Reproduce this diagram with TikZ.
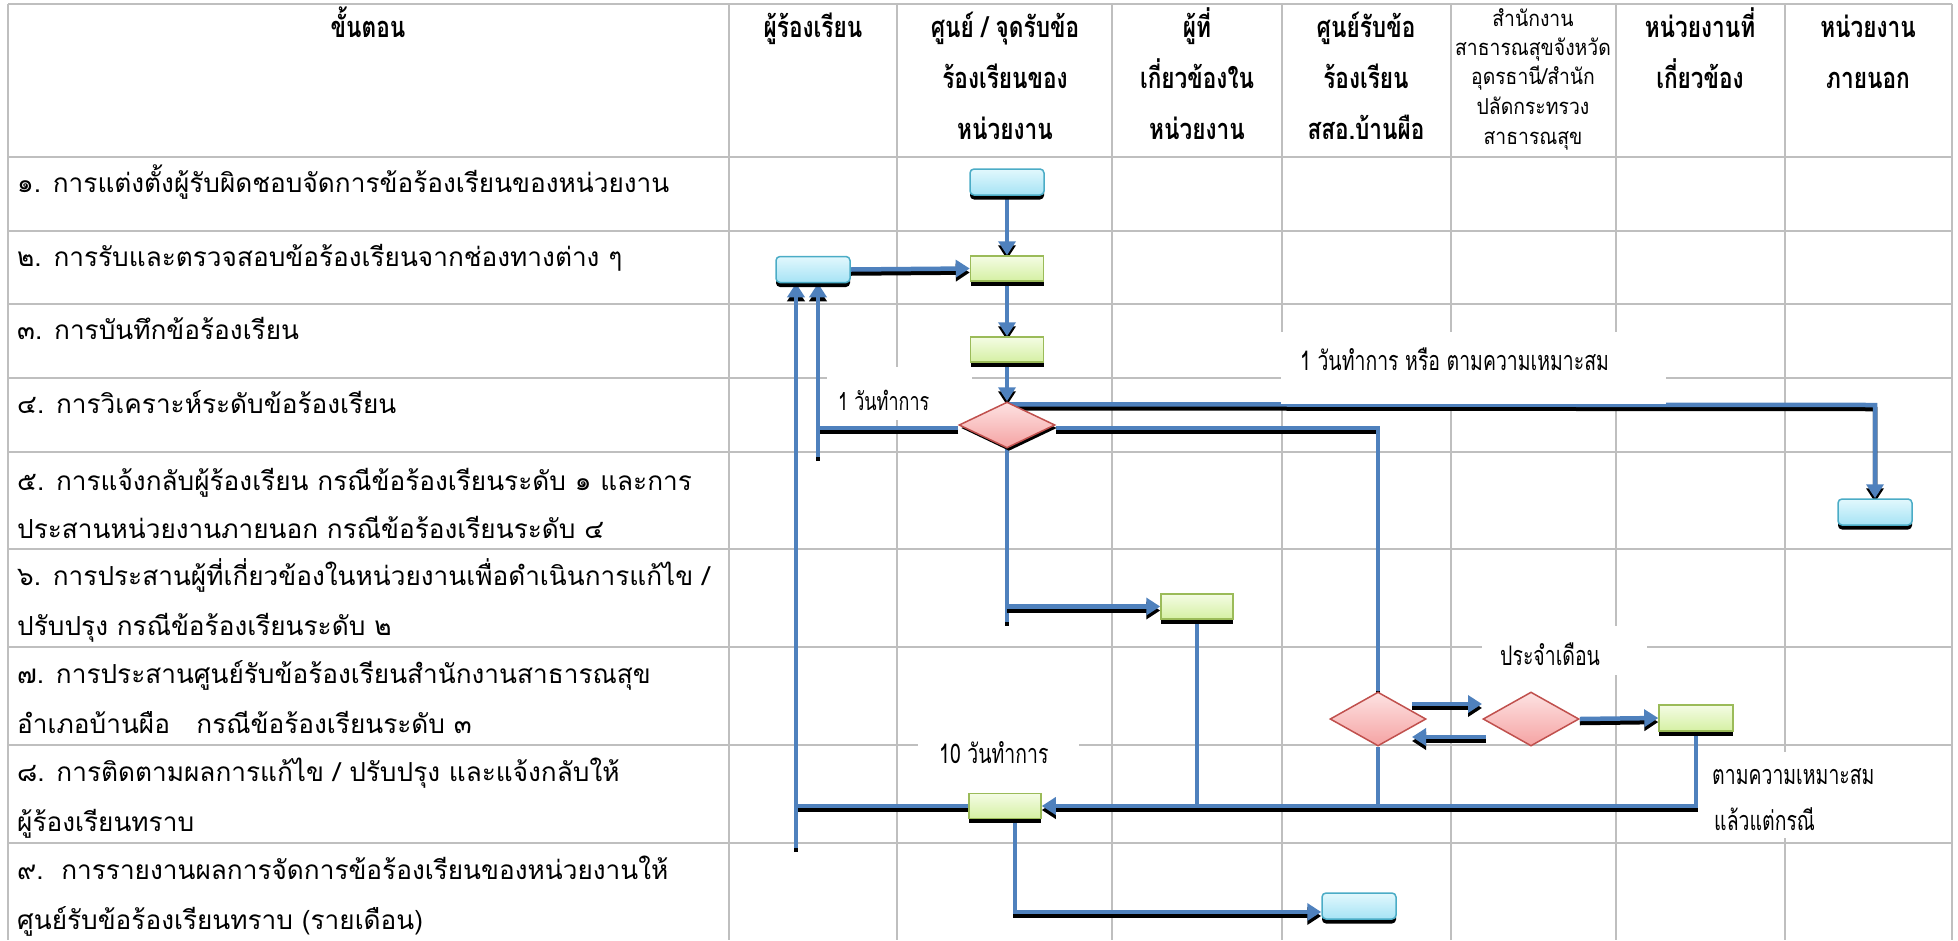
\documentclass[tikz,border=0pt]{standalone}
\usepackage{fontspec}
\setmainfont[Script=Thai]{Loma}
\newfontfamily\thcond[Script=Thai,FakeStretch=0.78]{Loma}
\newfontfamily\thlab[Script=Thai,FakeStretch=0.72]{Loma}
\newfontfamily\thsm[Script=Thai,FakeStretch=0.88]{Loma}
\usetikzlibrary{arrows.meta,shapes.geometric,shadows}
\definecolor{gridgray}{HTML}{BFBFBF}
\definecolor{flowblue}{HTML}{4F81BD}
\definecolor{aquaedge}{HTML}{4BACC6}
\definecolor{aquatop}{HTML}{E2F8FD}
\definecolor{aquabot}{HTML}{A6E3F5}
\definecolor{greenedge}{HTML}{9BBB59}
\definecolor{greentop}{HTML}{F4FCE4}
\definecolor{greenbot}{HTML}{D5F0A3}
\definecolor{rededge}{HTML}{C0504D}
\definecolor{redtop}{HTML}{FDE2E2}
\definecolor{redbot}{HTML}{F5A3A3}
\pgfdeclarelayer{gridlayer}
\pgfdeclarelayer{connlayer}
\pgfdeclarelayer{lablayer}
\pgfsetlayers{gridlayer,connlayer,lablayer,main}
\newcommand\flowpath[2][]{\draw[flowsh,#1] #2; \draw[flow,#1] #2;}
\begin{document}
\begin{tikzpicture}[x=1pt,y=-1pt,
  gridline/.style={draw=gridgray,line width=2pt},
  flow/.style={draw=flowblue,line width=4.5pt},
  flowsh/.style={draw=black,line width=4.5pt,transform canvas={yshift=-4pt}},
  tip/.style={-{Triangle[length=14pt,width=17pt]}},
  bluebox/.style={rectangle,rounded corners=4pt,draw=aquaedge,line width=1.5pt,
    top color=aquatop,bottom color=aquabot,minimum width=74pt,minimum height=26pt,
    inner sep=0pt,general shadow={fill=black,shadow yshift=-4.5pt}},
  greenbox/.style={rectangle,draw=greenedge,line width=1.5pt,
    top color=greentop,bottom color=greenbot,minimum width=73pt,minimum height=25pt,
    inner sep=0pt,general shadow={fill=black,shadow yshift=-4.5pt}},
  decision/.style={diamond,draw=rededge,line width=1.5pt,top color=redtop,bottom color=redbot,
    minimum width=96pt,minimum height=54pt,inner sep=0pt},
  ltext/.style={anchor=base west,inner sep=0pt,font=\fontsize{26.2}{30}\selectfont},
  htext/.style={anchor=base,inner sep=0pt,font=\thcond\bfseries\fontsize{29}{34}\selectfont},
  hsmall/.style={anchor=base,inner sep=0pt,font=\thsm\fontsize{22}{26}\selectfont},
  labtext/.style={anchor=base west,inner sep=0pt,font=\thlab\fontsize{27}{30}\selectfont}
]
\useasboundingbox (0,0) rectangle (1958,940);
% ---------- grid ----------
\begin{pgfonlayer}{gridlayer}
\foreach \yy in {4,157,231,304,378,452,549,647,745,843}
  \draw[gridline] (8,\yy) -- (1952,\yy);
\foreach \xx in {8,729,897,1112,1282,1451,1616,1785,1952}
  \draw[gridline] (\xx,4) -- (\xx,940);
\end{pgfonlayer}
% ---------- header ----------
\node[htext] (h1) at (368,37) {ขั้นตอน};
\node[htext] (h2) at (813,37) {ผู้ร้องเรียน};
\node[htext] (h3a) at (1005,37) {ศูนย์ / จุดรับข้อ};
\node[htext] (h3b) at (1005,88) {ร้องเรียนของ};
\node[htext] (h3c) at (1005,139) {หน่วยงาน};
\node[htext] (h4a) at (1197,37) {ผู้ที่};
\node[htext] (h4b) at (1197,88) {เกี่ยวข้องใน};
\node[htext] (h4c) at (1197,139) {หน่วยงาน};
\node[htext] (h5a) at (1366,37) {ศูนย์รับข้อ};
\node[htext] (h5b) at (1366,88) {ร้องเรียน};
\node[htext] (h5c) at (1366,139) {สสอ.บ้านผือ};
\node[hsmall] (h6a) at (1533,26) {สำนักงาน};
\node[hsmall] (h6b) at (1533,55) {สาธารณสุขจังหวัด};
\node[hsmall] (h6c) at (1533,84) {อุดรธานี/สำนัก};
\node[hsmall] (h6d) at (1533,114) {ปลัดกระทรวง};
\node[hsmall] (h6e) at (1533,144) {สาธารณสุข};
\node[htext] (h7a) at (1700,37) {หน่วยงานที่};
\node[htext] (h7b) at (1700,88) {เกี่ยวข้อง};
\node[htext] (h8a) at (1868,37) {หน่วยงาน};
\node[htext] (h8b) at (1868,88) {ภายนอก};
% ---------- step texts ----------
\node[ltext] (t1) at (17,192) {๑. การแต่งตั้งผู้รับผิดชอบจัดการข้อร้องเรียนของหน่วยงาน};
\node[ltext] (t2) at (17,266) {๒. การรับและตรวจสอบข้อร้องเรียนจากช่องทางต่าง ๆ};
\node[ltext] (t3) at (17,339) {๓. การบันทึกข้อร้องเรียน};
\node[ltext] (t4) at (17,413) {๔. การวิเคราะห์ระดับข้อร้องเรียน};
\node[ltext] (t5a) at (17,490) {๕. การแจ้งกลับผู้ร้องเรียน กรณีข้อร้องเรียนระดับ ๑ และการ};
\node[ltext] (t5b) at (17,538) {ประสานหน่วยงานภายนอก กรณีข้อร้องเรียนระดับ ๔};
\node[ltext] (t6a) at (17,585) {๖. การประสานผู้ที่เกี่ยวข้องในหน่วยงานเพื่อดำเนินการแก้ไข /};
\node[ltext] (t6b) at (17,635) {ปรับปรุง กรณีข้อร้องเรียนระดับ ๒};
\node[ltext] (t7a) at (17,683) {๗. การประสานศูนย์รับข้อร้องเรียนสำนักงานสาธารณสุข};
\node[ltext] (t7b) at (17,733) {อำเภอบ้านผือ\ \ \ กรณีข้อร้องเรียนระดับ ๓};
\node[ltext] (t8a) at (17,781) {๘. การติดตามผลการแก้ไข / ปรับปรุง และแจ้งกลับให้};
\node[ltext] (t8b) at (17,831) {ผู้ร้องเรียนทราบ};
\node[ltext] (t9a) at (17,879) {๙.\ \ การรายงานผลการจัดการข้อร้องเรียนของหน่วยงานให้};
\node[ltext] (t9b) at (17,929) {ศูนย์รับข้อร้องเรียนทราบ (รายเดือน)};
% ---------- flow nodes ----------
\node[bluebox] (B1) at (1007,182) {};
\node[greenbox] (G2) at (1007,268.5) {};
\node[greenbox] (G3) at (1007,349.5) {};
\node[bluebox] (B2) at (813,269.5) {};
\node[decision,minimum height=46pt,general shadow={fill=black,shadow xshift=2pt,shadow yshift=-3pt}] (D4) at (1007,425) {};
\node[bluebox] (B5) at (1875,512) {};
\node[greenbox,minimum width=72pt] (G6) at (1197,606.5) {};
\node[decision] (D7) at (1378,719) {};
\node[decision] (D7b) at (1531,719) {};
\node[greenbox,minimum width=74pt,minimum height=26pt] (G7) at (1696,718) {};
\node[greenbox,minimum width=72pt] (G8) at (1005,806) {};
\node[bluebox] (B9) at (1359,906) {};
% ---------- labels ----------
\begin{pgfonlayer}{lablayer}
\fill[white] (827,367) rectangle (972,420);
\fill[white] (1281,332) rectangle (1666,404);
\fill[white] (1482,626) rectangle (1647,675);
\fill[white] (918,738) rectangle (1079,790);
\fill[white] (1700,752) rectangle (1895,838);
\end{pgfonlayer}
\node[labtext,font=\thlab\fontsize{25}{28}\selectfont] (L1) at (838,410) {1 วันทำการ};
\node[labtext] (L2) at (1300,370) {1 วันทำการ หรือ ตามความเหมาะสม};
\node[labtext] (L3) at (1500,665) {ประจำเดือน};
\node[labtext] (L4) at (939,763) {10 วันทำการ};
\node[labtext] (L5) at (1712,784) {ตามความเหมาะสม};
\node[labtext] (L6) at (1714,830) {แล้วแต่กรณี};
% ---------- connectors ----------
\coordinate (k1) at (1875,405);
\coordinate (k2) at (1378,428);
\coordinate (k3) at (818,428);
\coordinate (k4) at (818,457);
\coordinate (k5) at (1007,622);
\coordinate (r8) at (0,806);
\coordinate (k6) at (796,848);
\coordinate (k7) at (1015,912);
\coordinate (m1) at (1412,704);
\coordinate (m2) at (1482,704);
\coordinate (m3) at (1486,737);
\coordinate (m4) at (1412,737);
\begin{pgfonlayer}{connlayer}
\flowpath[tip]{(B1.south) -- (G2.north)}
\flowpath[tip]{(B2.east) -- (G2.west)}
\flowpath[tip]{(G2.south) -- (G3.north)}
\flowpath[tip]{(G3.south) -- (D4.north)}
\flowpath[tip]{(D4.north) ++(0,3) -- (k1) -- (B5.north)}
\flowpath{(D4.east |- k2) -- (k2) -- (D7.north)}
\flowpath{(D4.west |- k3) -- (k3)}
\flowpath[tip]{(k4) -- (k4 |- B2.south)}
\flowpath{(D4.south) -- (k5)}
\flowpath[tip]{(k5 |- G6.west) -- (G6.west)}
\flowpath{(G6.south) -- (G6.south |- r8)}
\flowpath{(D7.south) -- (D7.south |- r8)}
\flowpath[tip]{(G7.south) -- (G7.south |- r8) -- (G8.east)}
\flowpath{(G8.west) -- (G8.west -| k6)}
\flowpath[tip]{(k6) -- (k6 |- B2.south)}
\flowpath[tip]{(G8.south -| k7) -- (k7) -- (B9.west |- k7)}
\flowpath[tip]{(m1) -- (m2)}
\flowpath[tip]{(m3) -- (m4)}
\flowpath[tip]{(D7b.east) -- (G7.west)}
\end{pgfonlayer}
\end{tikzpicture}
\end{document}
